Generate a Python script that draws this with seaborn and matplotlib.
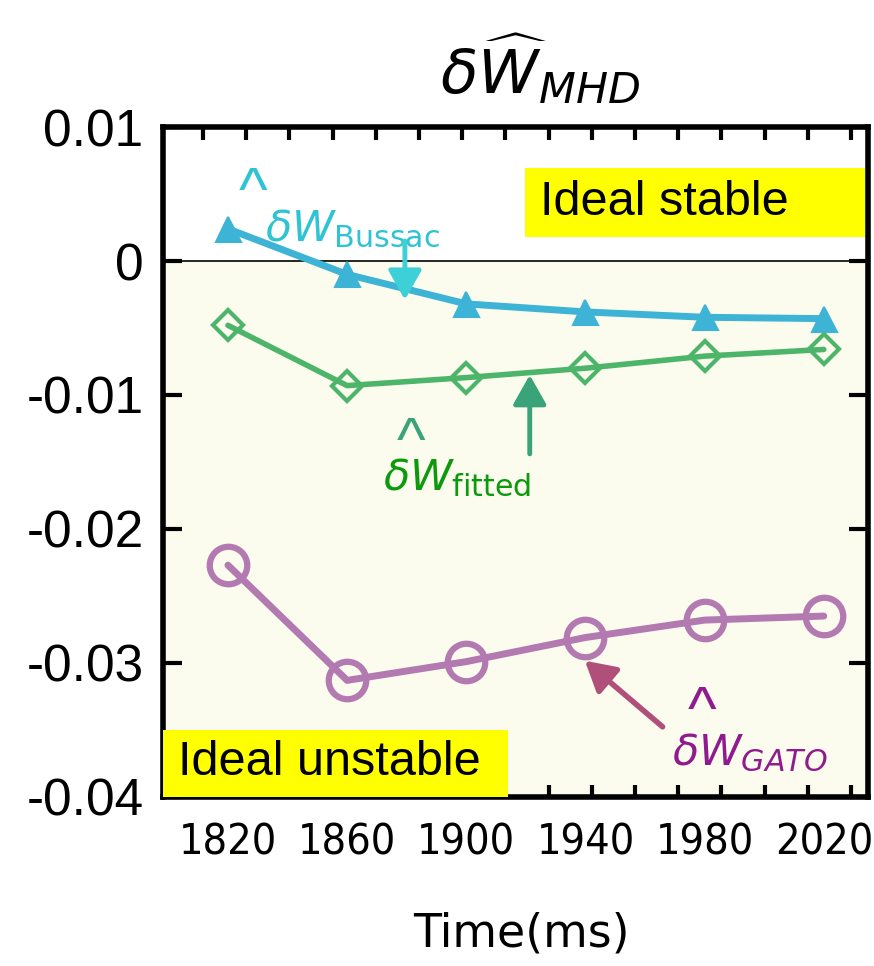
import matplotlib
matplotlib.use("Agg")
import matplotlib.pyplot as plt
from matplotlib.patches import Rectangle
from matplotlib.ticker import MultipleLocator
import pandas as pd
import seaborn as sns

# values
time_ms = [1820, 1860, 1900, 1940, 1980, 2020]
dw_bussac = [0.0024, -0.0010, -0.0032, -0.0038, -0.0042, -0.0043]
dw_fitted = [-0.0048, -0.0093, -0.0087, -0.0080, -0.0071, -0.0066]
dw_gato = [-0.0227, -0.0313, -0.0299, -0.0281, -0.0268, -0.0265]
y_ticks = [0.01, 0.0, -0.01, -0.02, -0.03, -0.04]
y_tick_labels = ["0.01", "0", "-0.01", "-0.02", "-0.03", "-0.04"]

sns.set_theme(style="ticks")
plt.rcParams["font.family"] = ["Liberation Sans", "DejaVu Sans"]
plt.rcParams["axes.unicode_minus"] = False
plt.rcParams["text.color"] = "black"
plt.rcParams["xtick.color"] = "black"
plt.rcParams["ytick.color"] = "black"

df = pd.DataFrame({
    "time": time_ms * 3,
    "dw": dw_bussac + dw_fitted + dw_gato,
    "series": ["bussac"] * 6 + ["fitted"] * 6 + ["gato"] * 6,
})

fig = plt.figure(figsize=(8.74, 9.66), dpi=100)
ax = fig.add_axes([0.1865, 0.175, 0.8065, 0.6935])

ax.axhspan(-0.04, 0.0, color="#fcfcee", zorder=0)
ax.axhline(0.0, color="black", lw=1.2, zorder=1)

styles = {
    "bussac": dict(color="#3db4d6", marker="^", ms=18, mfc="#3db4d6", mew=1.5, lw=5),
    "fitted": dict(color="#4cb569", marker="D", ms=15, mfc="none", mew=3, lw=4),
    "gato": dict(color="#b27ab0", marker="o", ms=27, mfc="none", mew=4.5, lw=5),
}
for name, group in df.groupby("series"):
    st = styles[name]
    sns.lineplot(data=group, x="time", y="dw", ax=ax, color=st["color"], lw=st["lw"],
                 marker=st["marker"], markersize=st["ms"], markerfacecolor=st["mfc"],
                 markeredgecolor=st["color"], markeredgewidth=st["mew"], legend=False, zorder=4)

ax.set_xlim(1798.2, 2034.8)
ax.set_ylim(-0.04, 0.01)
ax.set_xticks(time_ms)
ax.set_xticklabels([str(t) for t in time_ms], fontsize=31, family="DejaVu Sans",
                   fontstretch="condensed")
ax.set_yticks(y_ticks)
ax.set_yticklabels(y_tick_labels, fontsize=37)
ax.xaxis.set_minor_locator(MultipleLocator(14.5, offset=13.6))
ax.tick_params(axis="x", which="major", length=0, pad=18)
ax.tick_params(axis="x", which="minor", direction="in", top=True, bottom=True, length=9, width=3, color="black")
ax.tick_params(axis="y", which="major", direction="in", left=True, right=True, length=14, width=3, pad=14)
ax.set_xlabel("")
ax.set_ylabel("")
for side in ["left", "top", "right", "bottom"]:
    ax.spines[side].set_linewidth(4)
    ax.spines[side].set_color("black")

# yellow region labels
ax.add_patch(Rectangle((0.5135, 0.836), 0.482, 0.103, transform=ax.transAxes,
                       facecolor="#ffff00", edgecolor="none", zorder=3))
ax.text(0.535, 0.888, "Ideal stable", transform=ax.transAxes, fontsize=35,
        va="center", ha="left", zorder=5)
ax.add_patch(Rectangle((0.0, 0.0), 0.489, 0.1, transform=ax.transAxes,
                       facecolor="#ffff00", edgecolor="none", zorder=3, clip_on=False))
ax.text(0.021, 0.051, "Ideal unstable", transform=ax.transAxes, fontsize=35,
        va="center", ha="left", zorder=5)

arrow_style = "-|>,head_length=1.5,head_width=0.85"

# series labels with hats and arrows
ax.text(1832.4, 0.0024, r"$\delta W_{\mathrm{Bussac}}$", fontsize=31, color="#2fc3d3",
        va="center", ha="left", zorder=5)
ax.text(1828.5, 0.0050, "^", fontsize=44, color="#2fc3d3", ha="center", va="center", zorder=5)
ax.annotate("", xy=(1879.4, -0.0031), xytext=(1879.4, 0.0017),
            arrowprops=dict(arrowstyle=arrow_style, color="#3dd0d6", lw=3.5), zorder=5)

ax.text(1872.0, -0.0162, r"$\delta W_{\mathrm{fitted}}$", fontsize=31, color="#0c990c",
        va="center", ha="left", zorder=5)
ax.text(1881.5, -0.0137, "^", fontsize=44, color="#3aa37a", ha="center", va="center", zorder=5)
ax.annotate("", xy=(1921.3, -0.0083), xytext=(1921.3, -0.0146),
            arrowprops=dict(arrowstyle=arrow_style, color="#3aa37a", lw=3.5), zorder=5)

ax.text(1969.0, -0.0367, r"$\delta W_{GATO}$", fontsize=31, color="#8f1b8f",
        va="center", ha="left", zorder=5)
ax.text(1979.0, -0.0338, "^", fontsize=44, color="#8f1b8f", ha="center", va="center", zorder=5)
ax.annotate("", xy=(1939.1, -0.0297), xytext=(1966.6, -0.0349),
            arrowprops=dict(arrowstyle=arrow_style, color="#b0507a", lw=4), zorder=5)

fig.text(0.618, 0.9275, r"$\delta\widehat{W}_{MHD}$", fontsize=44, ha="center", va="center")
fig.text(0.597, 0.033, "Time(ms)", fontsize=33, ha="center", va="center",
         family=["DejaVu Sans"])

fig.savefig("out.png", dpi=100)
